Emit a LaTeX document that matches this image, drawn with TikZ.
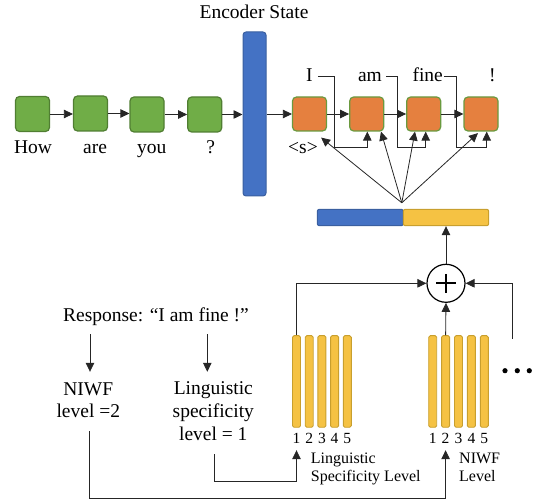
\documentclass[tikz,border=0pt]{standalone}
\usepackage{fontspec}
\setmainfont{Liberation Serif}
\usetikzlibrary{arrows.meta,calc}
\definecolor{gfill}{HTML}{70AD47}
\definecolor{gline}{HTML}{507E32}
\definecolor{ofill}{HTML}{E5803F}
\definecolor{oline}{HTML}{6A9A3F}
\definecolor{bfill}{HTML}{4472C4}
\definecolor{bline}{HTML}{3A5FA0}
\definecolor{yfill}{HTML}{F5C243}
\definecolor{yline}{HTML}{C89F2E}
\tikzset{
 gbox/.style={draw=gline, fill=gfill, line width=1.2pt, rounded corners=4pt, minimum width=34pt, minimum height=35pt, inner sep=0pt},
 obox/.style={gbox, draw=oline, fill=ofill, minimum height=34pt},
 ybar/.style={draw=yline, fill=yfill, line width=0.9pt, rounded corners=1.5pt, minimum width=8pt, minimum height=91.6pt, inner sep=0pt},
 bluebar/.style={draw=bline, fill=bfill, line width=1pt, inner sep=0pt},
 conn/.style={draw=black!85, line width=0.8pt},
 arr/.style={conn, -{Triangle[length=9pt,width=8.5pt]}},
 txt/.style={font=\fontsize{19.5}{22.7}\selectfont, inner sep=0pt},
 small/.style={font=\fontsize{16}{18.4}\selectfont, inner sep=0pt},
 toplab/.style={txt, anchor=base, text height=13.4pt, text depth=2.2pt},
}
\begin{document}
\begin{tikzpicture}[x=1pt,y=-1pt]
\useasboundingbox (0,0) rectangle (533,502);

% encoder
\node[txt,anchor=base] (enclab) at (254,18.3) {Encoder State};
\node[bluebar, rounded corners=3pt, minimum width=23pt, minimum height=164pt] (enc) at (254.5,114) {};

% green boxes
\node[gbox] (g1) at (32.5,114) {};
\node[gbox] (g2) at (90.5,113.5) {};
\node[gbox] (g3) at (147,114.5) {};
\node[gbox] (g4) at (204.7,114.5) {};
\node[txt,anchor=base] (wHow) at (33,153.3) {How};
\node[txt,anchor=base] (wAre) at (95,153.3) {are};
\node[txt,anchor=base] (wYou) at (151.7,153.3) {you};
\node[txt,anchor=base] (wQ) at (210.7,153.3) {?};
\draw[arr] (g1.east) -- (g1.east -| g2.west);
\draw[arr] (g2.east) -- (g2.east -| g3.west);
\draw[arr] (g3.east) -- (g3.east -| g4.west);
\draw[arr] (g4.east) -- (g4.east -| enc.west);

% orange boxes
\node[obox] (o1) at (309.5,114) {};
\node[obox] (o2) at (366.7,114) {};
\node[obox] (o3) at (423.7,114) {};
\node[obox] (o4) at (481,114) {};
\draw[arr] (enc.east |- o1.west) -- (o1.west);
\draw[arr] (o1.east) -- (o2.west);
\draw[arr] (o2.east) -- (o3.west);
\draw[arr] (o3.east) -- (o4.west);

% output words
\node[toplab] (lI) at (309.3,81.7) {I};
\node[toplab] (lam) at (370,81.7) {am};
\node[toplab] (lfine) at (427.7,81.7) {fine};
\node[toplab] (lex) at (492.3,81.7) {!};
\node[txt] (ls) at (303,148) {<s>};
\draw[arr] ([xshift=5pt]lI.east) -| (334,147.3) -| ([xshift=0.6pt]o2.south);
\draw[arr] ([xshift=4pt]lam.east) -| (397.7,147.3) -| ([xshift=2pt]o3.south);
\draw[arr] ([xshift=1pt]lfine.east) -| (456.7,147.3) -| ([xshift=5.7pt]o4.south);

% concatenated vector
\node[bluebar, rounded corners=2pt, minimum width=86pt, minimum height=16.4pt] (barB) at (360.3,217.5) {};
\node[bluebar, draw=yline, fill=yfill, rounded corners=2pt, minimum width=85.4pt, minimum height=16.4pt] (barY) at (446,217.5) {};
\coordinate (fan) at ($(barB.north east)+(-2,-6)$);
\draw[arr] (fan) -- ($(o1.south east)+(-6,6)$);
\draw[arr] (fan) -- ($(o2.south east)+(-3.3,0)$);
\draw[arr] (fan) -- ($(o3.south)+(-8.7,0)$);
\draw[arr] (fan) -- ($(o4.south)+(-3,1.5)$);

% plus
\node[circle, draw=black, line width=1.2pt, minimum size=38pt, inner sep=0pt, fill=white] (plus) at (446,283.3) {};
\draw[line width=2.4pt] ($(plus.center)+(-10,0)$) -- ($(plus.center)+(10,0)$);
\draw[line width=2.4pt] ($(plus.center)+(0,-9.5)$) -- ($(plus.center)+(0,9.5)$);
\draw[arr] (plus.north) -- (barY.south);

% level embeddings
\foreach \i/\x in {1/296.5,2/309.2,3/321.9,4/334.6,5/347.3}{
  \node[ybar] (L\i) at (\x,381.5) {};
  \node[small,anchor=base,font=\fontsize{15.5}{18}\selectfont] (dL\i) at (\x,443.3) {\i};
}
\foreach \i/\x in {1/432.7,2/445.6,3/458.5,4/471.4,5/484.3}{
  \node[ybar] (R\i) at (\x,381.5) {};
  \node[small,anchor=base,font=\fontsize{15.5}{18}\selectfont] (dR\i) at (\x,443.3) {\i};
}
\draw[arr] (L1.north) |- (plus.west);
\draw[arr] (R2.north) -- (plus.south);
\coordinate (rr) at (512.3,339);
\draw[arr] (rr) |- (plus.east);
\fill (505,370.7) circle (2.6pt);
\fill (517.3,370.7) circle (2.6pt);
\fill (529.3,370.7) circle (2.6pt);

\node[small, align=left, anchor=north west] (lslab) at (310.7,452.5) {Linguistic\\Specificity Level};
\node[small, align=left, anchor=north west] (nlab) at (459,452.5) {NIWF\\Level};

% left texts
\node[txt,anchor=base] (resp) at (156,321.7) {Response: “I am fine !”};
\node[txt,align=center,anchor=north] (niwf) at (88.3,382.3) {NIWF\\level =2};
\node[txt,align=center,anchor=north] (ling) at (213.3,381.8) {Linguistic\\specificity\\level = 1};
\draw[arr] ($(resp.south -| niwf.north)+(1.7,8)$) -- ($(niwf.north)+(1.7,-10.5)$);
\draw[arr] ($(resp.south -| ling.north)+(-6,8)$) -- ($(ling.north)+(-6,-10)$);
\draw[arr] ($(ling.south)+(1,13.3)$) -- ++(0,27.3) -| ($(dL1.south)+(0,6.7)$);
\draw[arr] ($(niwf.south)+(0.7,12.8)$) -- ++(0,67.6) -| ($(dR2.south)+(0,6.7)$);
\end{tikzpicture}
\end{document}
